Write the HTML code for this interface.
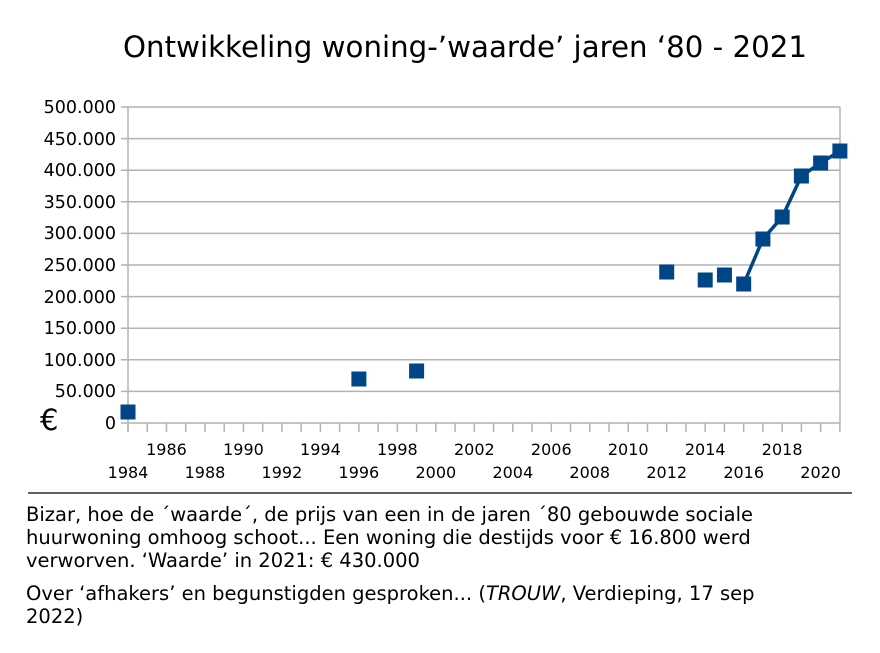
<!DOCTYPE html>
<html><head><meta charset="utf-8"><style>body{margin:0;background:#fff}</style></head><body>
<svg width="880" height="648" xmlns="http://www.w3.org/2000/svg" font-family="DejaVu Sans, Liberation Sans, sans-serif">
<text x="465" y="57" font-size="29" text-anchor="middle" fill="#000" textLength="684" lengthAdjust="spacingAndGlyphs">Ontwikkeling woning-’waarde’ jaren ‘80 - 2021</text>
<g stroke="#b3b3b3" stroke-width="1.5">
<line x1="121" y1="107" x2="840" y2="107"/><line x1="121" y1="138.6" x2="840" y2="138.6"/>
<line x1="121" y1="170.2" x2="840" y2="170.2"/><line x1="121" y1="201.8" x2="840" y2="201.8"/>
<line x1="121" y1="233.4" x2="840" y2="233.4"/><line x1="121" y1="265" x2="840" y2="265"/>
<line x1="121" y1="296.6" x2="840" y2="296.6"/><line x1="121" y1="328.2" x2="840" y2="328.2"/>
<line x1="121" y1="359.8" x2="840" y2="359.8"/><line x1="121" y1="391.4" x2="840" y2="391.4"/>
<line x1="121" y1="423" x2="840" y2="423"/>
<line x1="128" y1="107" x2="128" y2="432"/><line x1="840" y1="107" x2="840" y2="423"/>
</g>
<g stroke="#b3b3b3" stroke-width="1.5" id="ticks"></g>
<g font-size="17.5" fill="#000" text-anchor="end">
<text x="116" y="113">500.000</text><text x="116" y="145">450.000</text><text x="116" y="176">400.000</text>
<text x="116" y="208">350.000</text><text x="116" y="239">300.000</text><text x="116" y="271">250.000</text>
<text x="116" y="303">200.000</text><text x="116" y="334">150.000</text><text x="116" y="366">100.000</text>
<text x="116" y="397">50.000</text><text x="116" y="429">0</text>
</g>
<text x="40" y="430" font-size="29" fill="#000">€</text>
<g font-size="16" fill="#000" text-anchor="middle" id="xl"></g>
<polyline points="743.7,284 762.9,239 782.2,217 801.4,176 820.6,163 839.9,151" fill="none" stroke="#004586" stroke-width="3.5"/>
<g fill="#004586" id="m"></g>
<line x1="28" y1="493" x2="852" y2="493" stroke="#000" stroke-width="1.2"/>
<g font-size="19.5" fill="#000">
<text x="26" y="521">Bizar, hoe de ´waarde´, de prijs van een in de jaren ´80 gebouwde sociale</text>
<text x="26" y="544">huurwoning omhoog schoot... Een woning die destijds voor € 16.800 werd</text>
<text x="26" y="567">verworven. ‘Waarde’ in 2021: € 430.000</text>
<text x="26" y="600">Over ‘afhakers’ en begunstigden gesproken... (<tspan font-style="italic">TROUW</tspan>,  Verdieping, 17 sep</text>
<text x="26" y="623">2022)</text>
</g>
<script>
var t=document.getElementById('ticks'),xl=document.getElementById('xl'),m=document.getElementById('m'),ns='http://www.w3.org/2000/svg';
function X(y){return 128+(y-1984)*19.24;}
for(var y=1984;y<=2021;y++){var l=document.createElementNS(ns,'line');l.setAttribute('x1',X(y));l.setAttribute('x2',X(y));l.setAttribute('y1',423);l.setAttribute('y2',432);t.appendChild(l);}
for(var y=1984;y<=2020;y+=2){var tx=document.createElementNS(ns,'text');tx.setAttribute('x',X(y));tx.setAttribute('y',(y%4==0)?478:455);tx.textContent=y;xl.appendChild(tx);}
var d=[[1984,412],[1996,379],[1999,371],[2012,272],[2014,280],[2015,275],[2016,284],[2017,239],[2018,217],[2019,176],[2020,163],[2021,151]];
d.forEach(function(p){var r=document.createElementNS(ns,'rect');r.setAttribute('x',X(p[0])-7.5);r.setAttribute('y',p[1]-7.5);r.setAttribute('width',15);r.setAttribute('height',15);m.appendChild(r);});
</script>
</svg>
</body></html>
